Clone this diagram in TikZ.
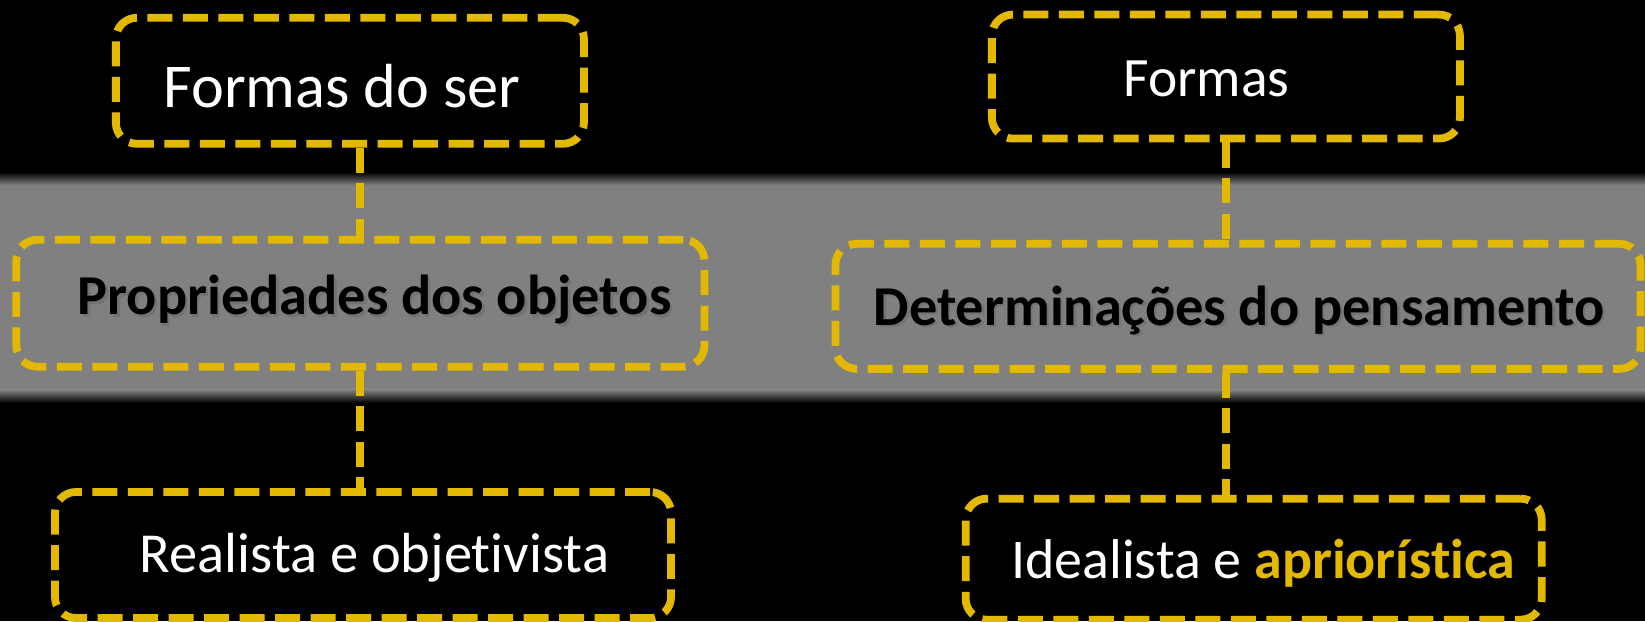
\documentclass[tikz,border=0pt]{standalone}
\usepackage{fontspec}
\setmainfont{Carlito}[Ligatures=NoCommon]
\definecolor{ouro}{HTML}{E3B800}
\definecolor{banda}{HTML}{808080}
\begin{document}
\begin{tikzpicture}[x=1.049pt,y=-1.049pt,
  box/.style={draw=ouro, line width=7.8pt, dash pattern=on 25pt off 10.5pt, rounded corners=21pt, rectangle, inner sep=0pt},
  link/.style={draw=ouro, line width=7.8pt, dash pattern=on 25pt off 10.5pt},
  boxshadow/.style={draw=black!50, line width=7.8pt, dash pattern=on 25pt off 10.5pt, rounded corners=21pt},
  wtxt/.style={text=white, anchor=base, inner sep=0pt},
  btxt/.style={text=black, anchor=base, inner sep=0pt, font=\bfseries\fontsize{56.3}{62}\selectfont}]
\useasboundingbox (0,0) rectangle (1568,592);
\fill[black] (0,0) rectangle (1568,592);
% grey band with soft edges
\fill[banda] (0,176) rectangle (1568,372);
\shade[top color=black, bottom color=banda] (0,164) rectangle (1568,176.5);
\shade[top color=banda, bottom color=black] (0,371.5) rectangle (1568,384);
% boxes
\node[box, minimum width=468pt, minimum height=126pt] (b1) at (333.5,77) {};
\node[box, minimum width=468pt, minimum height=124pt] (b2) at (1168.5,73) {};
\draw[boxshadow] (18,232) rectangle (675,353);
\draw[boxshadow] (798,236) rectangle (1567,355);
\node[box, minimum width=688pt, minimum height=127pt] (b3) at (343.5,289) {};
\node[box, minimum width=805pt, minimum height=125pt] (b4) at (1180,292) {};
\node[box, minimum width=616pt, minimum height=126pt] (b5) at (346,529) {};
\node[box, minimum width=576pt, minimum height=121pt] (b6) at (1195,533) {};
% connectors
\draw[link] (b1.south -| b3.north) -- (b3.north);
\draw[link] (b3.south) -- (b3.south |- b5.north);
\draw[link] (b2.south) -- (b2.south |- b4.north);
\draw[link] (b4.south -| b2.south) -- (b2.south |- b6.north);
% texts
\node[wtxt, font=\fontsize{62.3}{68}\selectfont] (t1) at (326,102) {Formas do ser};
\node[wtxt, font=\fontsize{55.5}{62}\selectfont] (t2) at (1150,92) {Formas};
\node[btxt, text=black!55] (s3) at (359.5,302.5) {Propriedades dos objetos};
\node[btxt] (t3) at (357,300) {Propriedades dos objetos};
\node[btxt, text=black!55] (s4) at (1183.5,312.5) {Determinações do pensamento};
\node[btxt] (t4) at (1181,310) {Determinações do pensamento};
\node[wtxt, font=\fontsize{56.5}{62}\selectfont] (t5) at (357,546) {Realista e objetivista};
\node[wtxt, font=\fontsize{56}{62}\selectfont] (t6) at (1204,551) {Idealista e \textbf{\textcolor{ouro}{apriorística}}};
\end{tikzpicture}
\end{document}
